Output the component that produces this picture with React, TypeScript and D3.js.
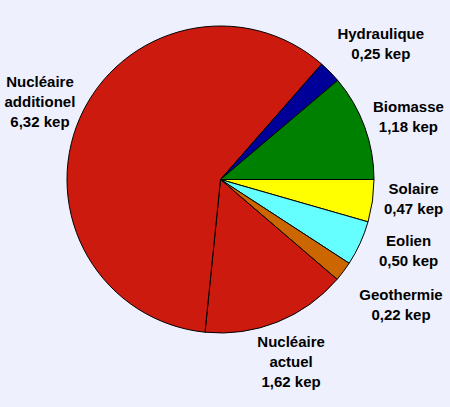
import { useEffect, useRef } from 'react'
import * as d3 from 'd3'

// slices, clockwise from 3 o'clock
const sources = ['Solaire', 'Eolien', 'Geothermie', 'Nucléaire actuel', 'Nucléaire additionel', 'Hydraulique', 'Biomasse']
const values = [0.47, 0.5, 0.22, 1.62, 6.32, 0.25, 1.18]
const labelLines = [['Solaire'], ['Eolien'], ['Geothermie'], ['Nucléaire', 'actuel'], ['Nucléaire', 'additionel'], ['Hydraulique'], ['Biomasse']]
const colors = ['#ffff00', '#66ffff', '#cc6600', '#cc1a0e', '#cc1a0e', '#000099', '#008000']
// hand nudges for the label blocks (like Excel's dragged labels)
const labelNudge: [number, number][] = [[-3, -8], [8, -11], [22, 7], [-3, -1], [1, 2], [19, 3], [2, 6]]

interface Slice { name: string; value: number; lines: string[]; color: string; nudge: [number, number] }

const WIDTH = 450
const HEIGHT = 407

export default function App() {
  const ref = useRef<SVGSVGElement | null>(null)

  useEffect(() => {
    if (!ref.current) {return}
    const svg = d3.select(ref.current)
    svg.selectAll('*').remove()

    const data: Slice[] = sources.map((name, i) => ({
      name,
      value: values[i],
      lines: labelLines[i],
      color: colors[i],
      nudge: labelNudge[i],
    }))
    const cx = 220.5
    const cy = 179.5
    const r = 153.5
    const fontSize = 15
    const lineH = 20

    svg.append('rect').attr('width', WIDTH).attr('height', HEIGHT).attr('fill', '#eef0fd')

    const pie = d3
      .pie<Slice>()
      .value((d) => d.value)
      .sort(null)
      .startAngle(Math.PI / 2)
      .endAngle(Math.PI / 2 + 2 * Math.PI)

    const arcs = pie(data)
    const arc = d3.arc<d3.PieArcDatum<Slice>>().innerRadius(0).outerRadius(r)
    const labelArc = d3.arc<d3.PieArcDatum<Slice>>().innerRadius(198).outerRadius(198)

    const root = svg.append('g').attr('transform', `translate(${cx},${cy})`)

    root
      .selectAll('path')
      .data(arcs)
      .join('path')
      .attr('d', arc)
      .attr('fill', (d) => d.data.color)
      .attr('stroke', '#000')
      .attr('stroke-width', 1)
      .attr('stroke-linejoin', 'round')

    const fmt = (v: number) => v.toFixed(2).replace('.', ',') + ' kep'

    const labels = root
      .append('g')
      .attr('font-family', 'Arial, "Liberation Sans", sans-serif')
      .attr('font-weight', 'bold')
      .attr('font-size', fontSize)
      .attr('fill', '#000')

    arcs.forEach((a) => {
      const lines = [...a.data.lines, fmt(a.data.value)]
      const [lx, ly] = labelArc.centroid(a)
      const x = lx + a.data.nudge[0]
      const y = ly + a.data.nudge[1]
      const top = y - (lines.length * lineH) / 2 + lineH / 2 + 5
      const t = labels.append('text').attr('text-anchor', 'middle').attr('transform', `translate(${x},${top})`)
      lines.forEach((l, i) => t.append('tspan').attr('x', 0).attr('y', i * lineH).text(l))
    })
  }, [])

  return (
    <svg
      ref={ref}
      width={WIDTH}
      height={HEIGHT}
      style={{ position: 'absolute', left: 0, top: 0, display: 'block' }}
      role="img"
      aria-label="Pie chart"
    />
  )
}
